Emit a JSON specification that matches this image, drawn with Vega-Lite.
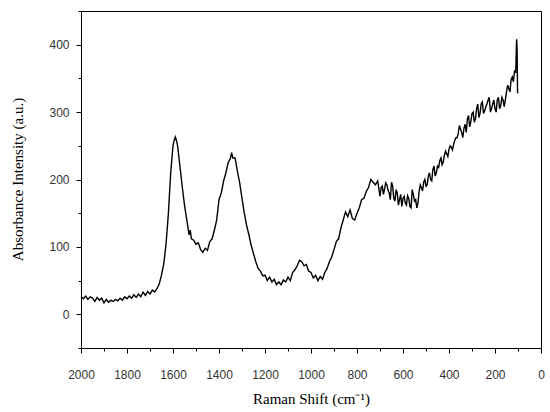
{
  "$schema": "https://vega.github.io/schema/vega-lite/v6.json",
  "width": 460,
  "height": 337,
  "autosize": {"type": "none"},
  "padding": {"left": 81, "top": 11, "right": 9, "bottom": 64},
  "background": "white",
  "config": {
    "view": {"stroke": "black", "strokeWidth": 1},
    "axis": {"grid": false, "domainColor": "black", "tickColor": "black", "labelFont": "Liberation Sans", "labelFontSize": 12, "labelColor": "#333", "titleFont": "Liberation Serif", "titleFontSize": 15, "titleFontWeight": "normal", "titleColor": "black"}
  },
  "data": {"values": [
    {"shift":2000,"intensity":26},{"shift":1990,"intensity":23},{"shift":1980,"intensity":27},{"shift":1970,"intensity":22},{"shift":1960,"intensity":26},{"shift":1950,"intensity":24},{"shift":1940,"intensity":19},{"shift":1930,"intensity":25},{"shift":1920,"intensity":21},{"shift":1910,"intensity":24},{"shift":1900,"intensity":17},{"shift":1890,"intensity":22},{"shift":1880,"intensity":18},{"shift":1870,"intensity":21},{"shift":1860,"intensity":19},{"shift":1850,"intensity":22},{"shift":1840,"intensity":20},{"shift":1830,"intensity":24},{"shift":1820,"intensity":21},{"shift":1810,"intensity":26},{"shift":1800,"intensity":23},{"shift":1790,"intensity":27},{"shift":1780,"intensity":24},{"shift":1770,"intensity":29},{"shift":1760,"intensity":25},{"shift":1750,"intensity":30},{"shift":1740,"intensity":26},{"shift":1730,"intensity":33},{"shift":1720,"intensity":28},{"shift":1710,"intensity":34},{"shift":1700,"intensity":30},{"shift":1690,"intensity":36},{"shift":1680,"intensity":33},{"shift":1670,"intensity":38},{"shift":1660,"intensity":45},{"shift":1650,"intensity":58},{"shift":1640,"intensity":75},{"shift":1630,"intensity":105},{"shift":1620,"intensity":150},{"shift":1610,"intensity":210},{"shift":1600,"intensity":250},{"shift":1595,"intensity":258},{"shift":1590,"intensity":263},{"shift":1585,"intensity":258},{"shift":1580,"intensity":250},{"shift":1570,"intensity":220},{"shift":1560,"intensity":190},{"shift":1550,"intensity":162},{"shift":1540,"intensity":140},{"shift":1530,"intensity":118},{"shift":1525,"intensity":125},{"shift":1520,"intensity":112},{"shift":1510,"intensity":110},{"shift":1500,"intensity":104},{"shift":1490,"intensity":106},{"shift":1480,"intensity":96},{"shift":1470,"intensity":92},{"shift":1460,"intensity":98},{"shift":1450,"intensity":95},{"shift":1440,"intensity":108},{"shift":1430,"intensity":112},{"shift":1420,"intensity":125},{"shift":1410,"intensity":140},{"shift":1400,"intensity":170},{"shift":1390,"intensity":180},{"shift":1380,"intensity":198},{"shift":1370,"intensity":210},{"shift":1360,"intensity":225},{"shift":1350,"intensity":232},{"shift":1345,"intensity":240},{"shift":1340,"intensity":232},{"shift":1330,"intensity":232},{"shift":1320,"intensity":212},{"shift":1310,"intensity":195},{"shift":1300,"intensity":172},{"shift":1290,"intensity":150},{"shift":1280,"intensity":132},{"shift":1270,"intensity":118},{"shift":1260,"intensity":102},{"shift":1250,"intensity":90},{"shift":1240,"intensity":78},{"shift":1230,"intensity":68},{"shift":1220,"intensity":64},{"shift":1210,"intensity":57},{"shift":1200,"intensity":58},{"shift":1190,"intensity":50},{"shift":1180,"intensity":55},{"shift":1170,"intensity":48},{"shift":1160,"intensity":52},{"shift":1150,"intensity":44},{"shift":1140,"intensity":48},{"shift":1130,"intensity":44},{"shift":1120,"intensity":51},{"shift":1110,"intensity":48},{"shift":1100,"intensity":55},{"shift":1090,"intensity":50},{"shift":1080,"intensity":62},{"shift":1070,"intensity":66},{"shift":1060,"intensity":72},{"shift":1050,"intensity":80},{"shift":1040,"intensity":78},{"shift":1030,"intensity":72},{"shift":1020,"intensity":74},{"shift":1010,"intensity":64},{"shift":1000,"intensity":62},{"shift":990,"intensity":54},{"shift":980,"intensity":58},{"shift":970,"intensity":50},{"shift":960,"intensity":56},{"shift":950,"intensity":52},{"shift":940,"intensity":62},{"shift":930,"intensity":68},{"shift":920,"intensity":78},{"shift":910,"intensity":85},{"shift":900,"intensity":96},{"shift":890,"intensity":108},{"shift":880,"intensity":112},{"shift":870,"intensity":128},{"shift":860,"intensity":140},{"shift":850,"intensity":152},{"shift":840,"intensity":145},{"shift":830,"intensity":155},{"shift":820,"intensity":142},{"shift":810,"intensity":140},{"shift":800,"intensity":150},{"shift":790,"intensity":158},{"shift":780,"intensity":170},{"shift":770,"intensity":172},{"shift":760,"intensity":182},{"shift":750,"intensity":188},{"shift":740,"intensity":200},{"shift":730,"intensity":196},{"shift":720,"intensity":192},{"shift":710,"intensity":198},{"shift":700,"intensity":175},{"shift":690,"intensity":190},{"shift":680,"intensity":186},{"shift":670,"intensity":192},{"shift":660,"intensity":180},{"shift":650,"intensity":196},{"shift":640,"intensity":172},{"shift":630,"intensity":185},{"shift":620,"intensity":162},{"shift":610,"intensity":178},{"shift":600,"intensity":172},{"shift":590,"intensity":165},{"shift":580,"intensity":176},{"shift":570,"intensity":160},{"shift":560,"intensity":185},{"shift":550,"intensity":168},{"shift":540,"intensity":158},{"shift":530,"intensity":182},{"shift":520,"intensity":188},{"shift":510,"intensity":196},{"shift":500,"intensity":190},{"shift":490,"intensity":205},{"shift":480,"intensity":200},{"shift":470,"intensity":215},{"shift":460,"intensity":205},{"shift":450,"intensity":220},{"shift":440,"intensity":228},{"shift":430,"intensity":222},{"shift":420,"intensity":236},{"shift":410,"intensity":238},{"shift":400,"intensity":245},{"shift":390,"intensity":248},{"shift":380,"intensity":252},{"shift":370,"intensity":262},{"shift":360,"intensity":268},{"shift":350,"intensity":275},{"shift":340,"intensity":262},{"shift":330,"intensity":282},{"shift":320,"intensity":290},{"shift":310,"intensity":278},{"shift":300,"intensity":298},{"shift":290,"intensity":285},{"shift":280,"intensity":305},{"shift":270,"intensity":292},{"shift":260,"intensity":312},{"shift":250,"intensity":298},{"shift":240,"intensity":308},{"shift":230,"intensity":318},{"shift":220,"intensity":300},{"shift":210,"intensity":312},{"shift":200,"intensity":305},{"shift":190,"intensity":318},{"shift":180,"intensity":305},{"shift":170,"intensity":322},{"shift":160,"intensity":308},{"shift":150,"intensity":330},{"shift":140,"intensity":335},{"shift":130,"intensity":348},{"shift":120,"intensity":345},{"shift":115,"intensity":362},{"shift":110,"intensity":358},{"shift":106,"intensity":408},{"shift":104,"intensity":395},{"shift":102,"intensity":330},{"shift":100,"intensity":328},
    {"shift":695,"intensity":188},{"shift":685,"intensity":178},{"shift":675,"intensity":195},{"shift":665,"intensity":184},{"shift":655,"intensity":170},{"shift":645,"intensity":190},{"shift":635,"intensity":168},{"shift":625,"intensity":180},{"shift":615,"intensity":170},{"shift":605,"intensity":160},{"shift":595,"intensity":175},{"shift":585,"intensity":162},{"shift":575,"intensity":172},{"shift":565,"intensity":158},{"shift":555,"intensity":178},{"shift":545,"intensity":170},{"shift":535,"intensity":165},{"shift":525,"intensity":192},{"shift":515,"intensity":183},{"shift":505,"intensity":200},{"shift":495,"intensity":192},{"shift":485,"intensity":210},{"shift":475,"intensity":198},{"shift":465,"intensity":220},{"shift":455,"intensity":210},{"shift":445,"intensity":218},{"shift":435,"intensity":232},{"shift":425,"intensity":226},{"shift":415,"intensity":242},{"shift":405,"intensity":234},{"shift":395,"intensity":250},{"shift":385,"intensity":244},{"shift":375,"intensity":258},{"shift":365,"intensity":262},{"shift":355,"intensity":280},{"shift":345,"intensity":270},{"shift":335,"intensity":276},{"shift":325,"intensity":270},{"shift":315,"intensity":295},{"shift":305,"intensity":286},{"shift":295,"intensity":300},{"shift":285,"intensity":290},{"shift":275,"intensity":312},{"shift":265,"intensity":298},{"shift":255,"intensity":315},{"shift":245,"intensity":302},{"shift":235,"intensity":312},{"shift":225,"intensity":322},{"shift":215,"intensity":305},{"shift":205,"intensity":318},{"shift":195,"intensity":300},{"shift":185,"intensity":322},{"shift":175,"intensity":310},{"shift":165,"intensity":318},{"shift":155,"intensity":318},{"shift":145,"intensity":340},{"shift":135,"intensity":330},{"shift":125,"intensity":352}
  ]},
  "mark": {"type": "line", "color": "black", "strokeWidth": 1.4},
  "encoding": {
    "x": {
      "field": "shift", "type": "quantitative",
      "scale": {"domain": [2000, 0], "nice": false, "zero": false},
      "axis": {
        "title": "Raman Shift (cm⁻¹)",
        "values": [2000,1900,1800,1700,1600,1500,1400,1300,1200,1100,1000,900,800,700,600,500,400,300,200,100,0],
        "labelExpr": "datum.value % 200 === 0 ? datum.label : ''",
        "format": "d",
        "tickSize": {"condition": {"test": "datum.value % 200 === 0", "value": 5}, "value": 3},
        "labelPadding": 16,
        "labelFlush": false,
        "labelOverlap": false,
        "titleY": 50,
        "titleBaseline": "middle"
      }
    },
    "y": {
      "field": "intensity", "type": "quantitative",
      "scale": {"domain": [-50, 450], "nice": false, "zero": false},
      "axis": {
        "title": "Absorbance Intensity (a.u.)",
        "values": [-50,0,50,100,150,200,250,300,350,400,450],
        "labelExpr": "datum.value % 100 === 0 ? datum.label : ''",
        "tickSize": {"condition": {"test": "datum.value % 100 === 0", "value": 5}, "value": 3},
        "labelPadding": 7,
        "labelFlush": false,
        "labelOverlap": false,
        "titleX": -64,
        "titleY": 168,
        "titleBaseline": "middle",
        "titleAngle": -90
      }
    }
  }
}
